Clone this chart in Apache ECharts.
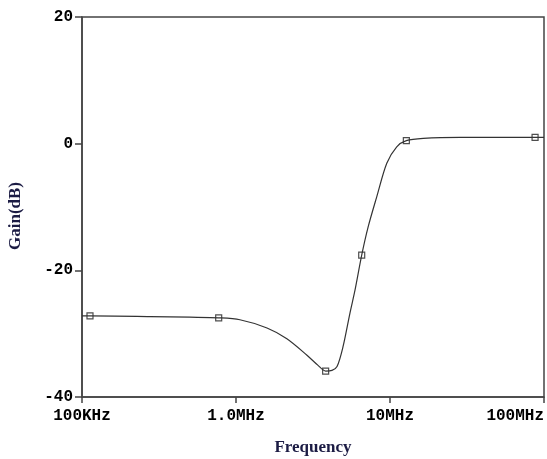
<!DOCTYPE html>
<html>
<head>
<meta charset="utf-8">
<script src="https://cdn.jsdelivr.net/npm/echarts@6/dist/echarts.min.js"></script>
<style>
  html, body { margin: 0; padding: 0; background: #fff; }
  #main { width: 547px; height: 459px; }
</style>
</head>
<body>
<div id="main"></div>
<script>
// frequency (Hz) and gain (dB)
var freq = [1.0e5, 1.127e5, 2.76e5, 5.02e5, 7.72e5, 1.06e6, 1.59e6, 2.14e6, 2.89e6, 3.41e6,
    3.82e6, 4.20e6, 4.53e6, 4.95e6, 5.50e6, 5.93e6, 6.55e6, 7.22e6, 8.20e6, 9.53e6,
    1.106e7, 1.277e7, 1.645e7, 2.85e7, 8.75e7, 1.0e8];
var gain = [-27.2, -27.2, -27.3, -27.4, -27.5, -27.8, -29.1, -30.8, -33.4, -35.0,
    -35.9, -35.8, -35.2, -32.1, -26.7, -23.1, -17.6, -13.1, -8.4, -3.1,
    -0.5, 0.47, 0.84, 1.0, 1.0, 1.0];
// the little square markers on the trace
var markFreq = [1.127e5, 7.72e5, 3.82e6, 6.55e6, 1.277e7, 8.75e7];
var markGain = [-27.2, -27.5, -35.9, -17.6, 0.47, 1.0];
var xTickLabels = {1e5: '100KHz', 1e6: '1.0MHz', 1e7: '10MHz', 1e8: '100MHz'};

var lineData = [], markData = [];
for (var i = 0; i < freq.length; i++) {
    lineData.push([freq[i], gain[i]]);
}
for (var j = 0; j < markFreq.length; j++) {
    markData.push([markFreq[j], markGain[j]]);
}

var tickFont = {
    color: '#000',
    fontFamily: 'Liberation Mono',
    fontWeight: 'bold',
    fontSize: 16
};
var titleFont = {
    color: '#1c1c44',
    fontFamily: 'Liberation Serif',
    fontWeight: 'bold',
    fontSize: 17
};

var myChart = echarts.init(document.getElementById('main'));
myChart.setOption({
    animation: false,
    backgroundColor: '#fff',
    grid: {
        left: 82, right: 3, top: 17, bottom: 62,
        containLabel: false,
        outerBoundsMode: 'none',
        show: true, borderColor: '#444', borderWidth: 1.5
    },
    xAxis: {
        type: 'log',
        logBase: 10,
        min: 1e5,
        max: 1e8,
        interval: 1,
        name: 'Frequency',
        nameLocation: 'middle',
        nameGap: 42,
        nameTextStyle: titleFont,
        axisLine: { onZero: false, lineStyle: { color: '#444', width: 1.5 } },
        axisTick: { show: true, inside: false, length: 6, lineStyle: { color: '#444', width: 1.5 } },
        minorTick: { show: false },
        splitLine: { show: false },
        axisLabel: Object.assign({
            margin: 11,
            alignMaxLabel: 'right',
            formatter: function (v) {
                var k = Math.round(v);
                return xTickLabels[k] || '';
            }
        }, tickFont)
    },
    yAxis: {
        type: 'value',
        min: -40,
        max: 20,
        interval: 20,
        name: 'Gain(dB)',
        nameLocation: 'middle',
        nameRotate: 90,
        nameGap: 58,
        nameTextStyle: Object.assign({ padding: [0, 18, 0, 0] }, titleFont),
        axisLine: { show: true, onZero: false, lineStyle: { color: '#444', width: 1.5 } },
        axisTick: { show: true, length: 7, lineStyle: { color: '#444', width: 1.5 } },
        splitLine: { show: false },
        axisLabel: Object.assign({ margin: 9 }, tickFont)
    },
    series: [
        {
            type: 'line',
            data: lineData,
            smooth: 0.3,
            showSymbol: false,
            lineStyle: { color: '#333', width: 1.2 }
        },
        {
            type: 'scatter',
            data: markData,
            symbol: 'rect',
            symbolSize: 6,
            itemStyle: { color: '#fff', borderColor: '#222', borderWidth: 1.2 }
        }
    ]
});
</script>
</body>
</html>
